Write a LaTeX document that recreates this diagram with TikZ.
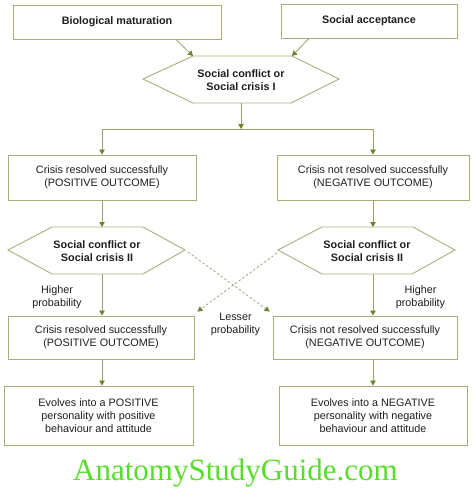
\documentclass[tikz,border=0pt]{standalone}
\usepackage{fontspec}
\setmainfont{Liberation Sans}
\newfontfamily\wmfont{Liberation Serif}
\usetikzlibrary{arrows.meta}
\definecolor{boxc}{RGB}{165,176,122}
\definecolor{shaftc}{RGB}{150,164,100}
\definecolor{arrc}{RGB}{108,132,48}
\definecolor{dashc}{RGB}{150,160,120}
\definecolor{txtc}{RGB}{30,30,30}
\definecolor{wmc}{RGB}{88,222,42}
\begin{document}
\begin{tikzpicture}[x=1pt,y=-1pt,
  box/.style={draw=boxc, line width=0.9pt, inner sep=0pt, align=center, text=txtc,
    font=\fontsize{10.8}{12.7}\selectfont},
  bbox/.style={box, font=\fontsize{10.8}{12.7}\selectfont\bfseries},
  hexline/.style={draw=boxc, line width=0.9pt},
  hextext/.style={align=center, text=txtc, inner sep=0pt, font=\fontsize{10.8}{13.5}\selectfont\bfseries},
  lbl/.style={align=center, text=txtc, inner sep=0pt, font=\fontsize{10.8}{12.7}\selectfont},
  arr/.style={draw=shaftc, line width=0.8pt, -{Triangle[width=5.5pt,length=5pt,color=arrc]}},
  darr/.style={draw=dashc, line width=0.7pt, dash pattern=on 2.5pt off 2pt, -{Triangle[width=5.5pt,length=5pt,color=arrc]}},
  barline/.style={draw=shaftc, line width=0.8pt},
]
\useasboundingbox (0,0) rectangle (473,490);

% top boxes
\node[bbox, minimum width=208pt, minimum height=34pt] (bio) at (117,22) {Biological maturation};
\node[bbox, minimum width=176pt, minimum height=34pt] (acc) at (369,21) {Social acceptance};

% hexagon I
\coordinate (h1w) at (143,79);
\coordinate (h1nw) at (193,56);
\coordinate (h1ne) at (292,56);
\coordinate (h1e) at (339,79);
\coordinate (h1se) at (291,103);
\coordinate (h1sw) at (193,103);
\draw[hexline] (h1w) -- (h1nw) -- (h1ne) -- (h1e) -- (h1se) -- (h1sw) -- cycle;
\node[hextext] (h1) at (241,80) {Social conflict or\\Social crisis I};
\coordinate (h1s) at (241,103);
\coordinate (bar) at (241,129);

% crisis boxes
\node[box, minimum width=188pt, minimum height=45pt] (crispos) at (102,177.5) {Crisis resolved successfully\\(POSITIVE OUTCOME)};
\node[box, minimum width=192pt, minimum height=45pt] (crisneg) at (373,177.5) {Crisis not resolved successfully\\(NEGATIVE OUTCOME)};

% hexagon II left
\coordinate (hLw) at (8,250);
\coordinate (hLnw) at (52,227);
\coordinate (hLne) at (143,227);
\coordinate (hLe) at (185,250);
\coordinate (hLse) at (143,274);
\coordinate (hLsw) at (52,274);
\draw[hexline] (hLw) -- (hLnw) -- (hLne) -- (hLe) -- (hLse) -- (hLsw) -- cycle;
\node[hextext] (hL) at (97,251) {Social conflict or\\Social crisis II};
\coordinate (hLin) at (102,227);
\coordinate (hLout) at (102,274);
\coordinate (hLdash) at (188,252);

% hexagon II right
\coordinate (hRw) at (278,250);
\coordinate (hRnw) at (322,227);
\coordinate (hRne) at (413,227);
\coordinate (hRe) at (455,250);
\coordinate (hRse) at (412,274);
\coordinate (hRsw) at (322,274);
\draw[hexline] (hRw) -- (hRnw) -- (hRne) -- (hRe) -- (hRse) -- (hRsw) -- cycle;
\node[hextext] (hR) at (367,251) {Social conflict or\\Social crisis II};
\coordinate (hRin) at (373,227);
\coordinate (hRout) at (373,274);
\coordinate (hRdash) at (277,253);

% lower boxes
\node[box, minimum width=186pt, minimum height=43pt] (lowpos) at (101,337.5) {Crisis resolved successfully\\(POSITIVE OUTCOME)};
\node[box, minimum width=184pt, minimum height=43pt] (lowneg) at (365,337.5) {Crisis not resolved successfully\\(NEGATIVE OUTCOME)};

% bottom boxes
\node[box, minimum width=189pt, minimum height=59pt] (endpos) at (98.5,415.5) {Evolves into a POSITIVE\\personality with positive\\behaviour and attitude};
\node[box, minimum width=188pt, minimum height=59pt] (endneg) at (373,415.5) {Evolves into a NEGATIVE\\personality with negative\\behaviour and attitude};

% labels
\node[lbl] (hpL) at (57,297) {Higher\\probability};
\node[lbl] (hpR) at (420.5,297) {Higher\\probability};
\node[lbl] (lp) at (235.5,324.5) {Lesser\\probability};

% connectors
\draw[arr] ([xshift=59pt]bio.south) -- (h1nw);
\draw[arr] ([xshift=-60pt]acc.south) -- (h1ne);
\draw[arr] (h1s) -- (bar);
\draw[barline] (crispos.north |- bar) -- (crisneg.north |- bar);
\draw[arr] (crispos.north |- bar) -- (crispos.north);
\draw[arr] (crisneg.north |- bar) -- (crisneg.north);
\draw[arr] (crispos.south) -- (hLin);
\draw[arr] (crisneg.south) -- (hRin);
\draw[arr] (hLout) -- (hLout |- lowpos.north);
\draw[arr] (hRout) -- (hRout |- lowneg.north);
\draw[darr] (hLdash) -- ([xshift=-3pt,yshift=4pt]lowneg.north west);
\draw[darr] (hRdash) -- ([xshift=3pt,yshift=4pt]lowpos.north east);
\draw[arr] (lowpos.south -| hLout) -- (endpos.north -| hLout);
\draw[arr] (lowneg.south -| hRout) -- (endneg.north -| hRout);

% watermark
\node[anchor=base, inner sep=0pt, text=wmc, font=\wmfont\fontsize{31}{31}\selectfont] (wm) at (235.5,480) {AnatomyStudyGuide.com};
\end{tikzpicture}
\end{document}
